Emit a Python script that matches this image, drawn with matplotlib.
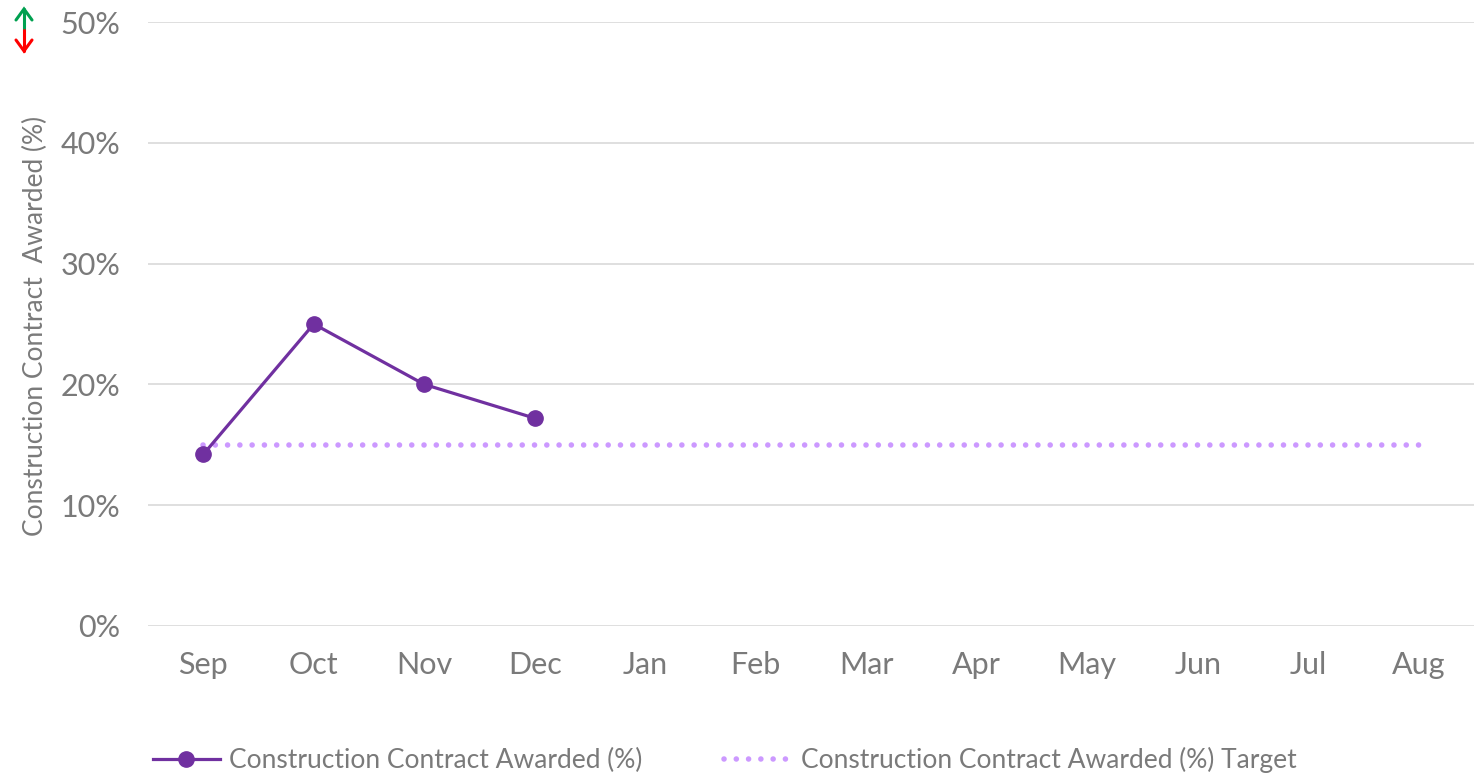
import matplotlib.pyplot as plt
from matplotlib.lines import Line2D
import numpy as np

months = ["Sep", "Oct", "Nov", "Dec", "Jan", "Feb", "Mar", "Apr", "May", "Jun", "Jul", "Aug"]
awarded = [14.2, 25.0, 20.0, 17.2]
target = [15.0] * 12
yticks = [0, 10, 20, 30, 40, 50]

plt.rcParams['font.family'] = ['Lato', 'DejaVu Sans']
grey = "#7a7a7a"

W, H = 1474, 775
fig = plt.figure(figsize=(W / 100, H / 100), dpi=100)
ax = fig.add_axes([0.1004, 0.1923, 0.8996, 0.7793])

x = np.arange(len(months))
ax.plot(x, target, color="#cc99ff", lw=4, linestyle=(0, (0.01, 2.2)),
        dash_capstyle="round", label="Construction Contract Awarded (%) Target", zorder=2)
ax.plot(x[:len(awarded)], awarded, color="#7030a0", lw=2.3, marker="o", markersize=11,
        label="Construction Contract Awarded (%)", zorder=3)

ax.set_xlim(-0.5, len(months) - 0.5)
ax.set_ylim(0, 50)
ax.set_yticks(yticks)
ax.set_yticklabels([f"{v}%" for v in yticks])
ax.set_xticks(x)
ax.set_xticklabels(months)
ax.grid(axis="y", color="#d9d9d9", lw=1.2)
ax.set_axisbelow(True)
for s in ax.spines.values():
    s.set_visible(False)
ax.tick_params(axis="both", length=0, labelsize=22, labelcolor=grey)
ax.tick_params(axis="y", pad=20)
ax.tick_params(axis="x", pad=18)

fig.text(0.024, 0.58, "Construction Contract  Awarded (%)", rotation=90, ha="center", va="center",
         fontsize=19, color=grey)

# pil efst til vinstri (teiknud i pixlum)
def fl(xs, ys, c):
    fig.add_artist(Line2D([v / W for v in xs], [1 - v / H for v in ys], color=c, lw=2.2,
                          solid_capstyle="round", solid_joinstyle="miter", transform=fig.transFigure))

fl([24, 24], [9, 30], "#00a050")
fl([16, 24, 32], [20, 9, 20], "#00a050")
fl([24, 24], [30, 51], "#ff0000")
fl([16, 24, 32], [40, 51, 40], "#ff0000")

h, l = ax.get_legend_handles_labels()
leg = fig.legend(h[::-1], l[::-1], loc="center left", bbox_to_anchor=(0.0875, 0.019), ncol=2,
                 frameon=False, fontsize=19, handlelength=2.55, columnspacing=3.1,
                 handletextpad=0.35)
for t in leg.get_texts():
    t.set_color(grey)

fig.savefig("out.png", dpi=100)
